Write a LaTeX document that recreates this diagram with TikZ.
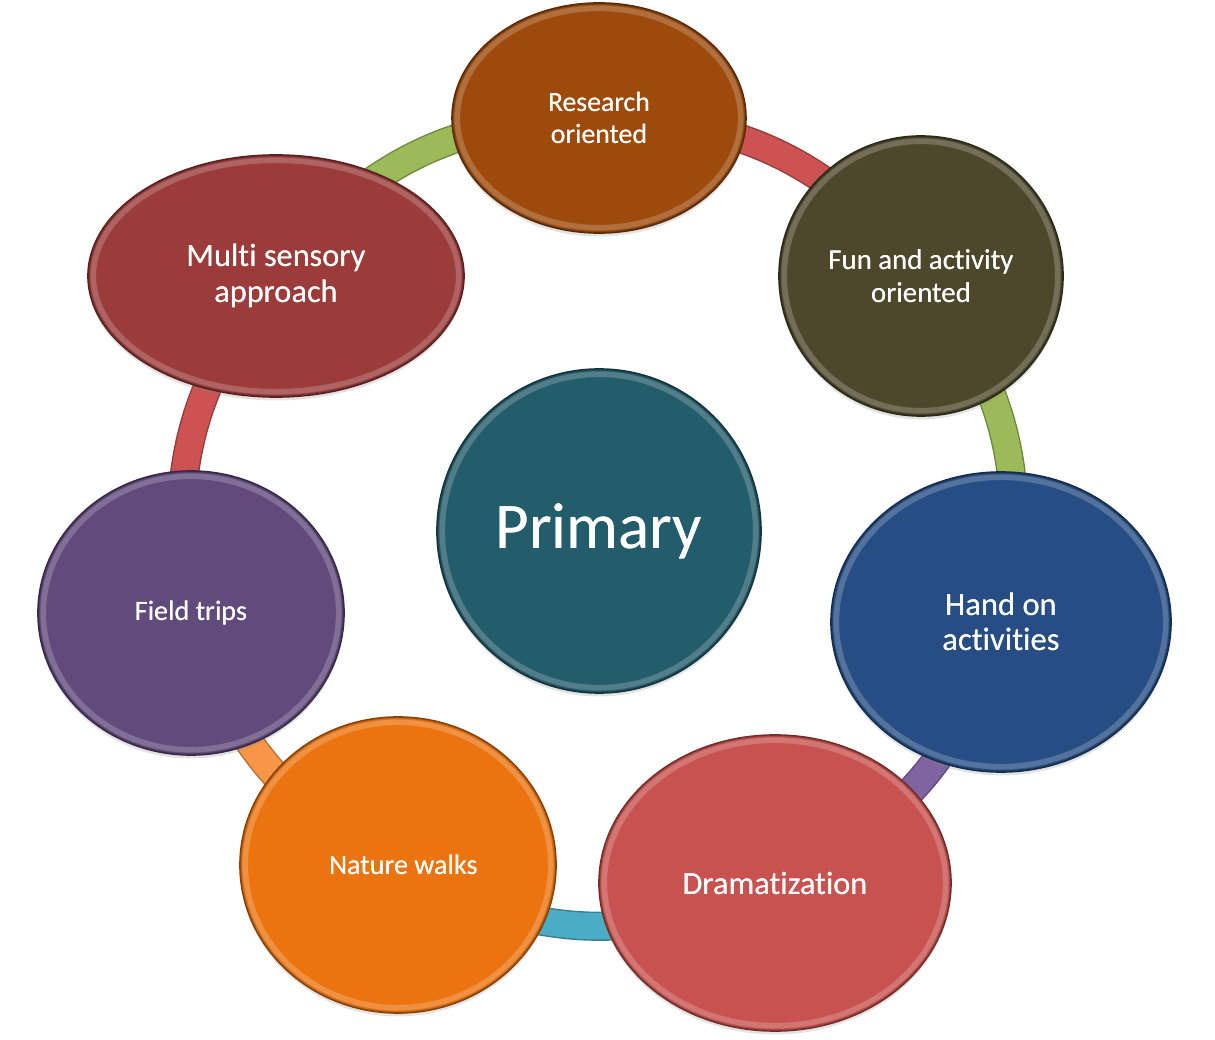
\documentclass[tikz,border=0pt]{standalone}
\usepackage{fontspec}
\setmainfont{Carlito}[Ligatures={NoCommon}]
\usetikzlibrary{shapes.geometric,backgrounds,shadows}

% bubble fills
\definecolor{cResearch}{HTML}{9E4A0C}
\definecolor{cFun}{HTML}{4D482B}
\definecolor{cHand}{HTML}{264E84}
\definecolor{cDrama}{HTML}{C8524F}
\definecolor{cNature}{HTML}{EC7410}
\definecolor{cField}{HTML}{614A7C}
\definecolor{cMulti}{HTML}{9B3B3A}
\definecolor{cPrimary}{HTML}{235C6B}
% ring segments
\definecolor{rGreen}{HTML}{9BBB59}
\definecolor{rRed}{HTML}{CD5252}
\definecolor{rPurple}{HTML}{8064A2}
\definecolor{rCyan}{HTML}{4BACC6}
\definecolor{rOrange}{HTML}{F79646}

\tikzset{
  bubblebox/.style={ellipse, inner sep=0pt, text=white, align=center,
    line width=1pt,
    drop shadow={opacity=0.22, shadow xshift=0pt, shadow yshift=-2pt}},
  ring/.style={draw=#1, line width=15pt, line cap=butt,
    preaction={draw=#1!72!black, line width=16.6pt}},
}

% \bubble{name}{x}{y}{rx}{ry}{colour}{{size}{skip}}{text}
\newcommand\bubble[8]{%
  \node[bubblebox, fill=#6, draw=#6!55!black,
        minimum width={#4*0.04cm}, minimum height={#5*0.04cm},
        font=\fontsize#7\selectfont] (#1) at (#2,#3) {#8};
  \draw[#6!62!white, opacity=0.55, line width=3.5pt]
    (#1.center) ellipse [x radius={(#4-5)*0.02cm}, y radius={(#5-5)*0.02cm}];
  \draw[#6!80!black, opacity=0.5, line width=1.2pt]
    (#1.center) ellipse [x radius={(#4-1.5)*0.02cm}, y radius={(#5-1.5)*0.02cm}];
  \node[text=white, align=center, font=\fontsize#7\selectfont] at (#1.center) {#8};
}

\begin{document}
\begin{tikzpicture}[x=0.02cm, y=-0.02cm]
  \useasboundingbox (0,0) rectangle (1215,1040);

  \bubble{research}{599}{118}{147}{115}{cResearch}{{15.8}{18.2}}{Research\\oriented}
  \bubble{fun}{921}{276}{142}{140}{cFun}{{16.4}{18.4}}{Fun and activity\\oriented}
  \bubble{hand}{1001}{622}{170}{150}{cHand}{{18.5}{20}}{Hand on\\activities}
  \bubble{drama}{775}{883}{176}{148}{cDrama}{{18.4}{20}}{Dramatization}
  \bubble{nature}{398}{865}{158}{148}{cNature}{{16}{18}}{\hspace*{6pt}Nature walks}
  \bubble{field}{191}{613}{153}{142}{cField}{{16}{18}}{Field trips}
  \bubble{multi}{276}{276}{188}{121}{cMulti}{{18.4}{20.5}}{Multi sensory\\approach}
  \bubble{primary}{599}{531}{162}{162}{cPrimary}{{37}{40}}{Primary}

  \begin{pgfonlayer}{background}
    \fill[white] (0,0) rectangle (1215,1040);
    \draw[ring=rGreen]  (multi.center)    to[bend left=26.5] (research.center);
    \draw[ring=rRed]    (research.center) to[bend left=26.4] (fun.center);
    \draw[ring=rGreen]  (fun.center)      to[bend left=25.8] (hand.center);
    \draw[ring=rPurple] (hand.center)     to[bend left=25]   (drama.center);
    \draw[ring=rCyan]   (drama.center)    to[bend left=28]   (nature.center);
    \draw[ring=rOrange] (nature.center)   to[bend left=23.4] (field.center);
    \draw[ring=rRed]    (field.center)    to[bend left=24.9] (multi.center);
  \end{pgfonlayer}
\end{tikzpicture}
\end{document}
